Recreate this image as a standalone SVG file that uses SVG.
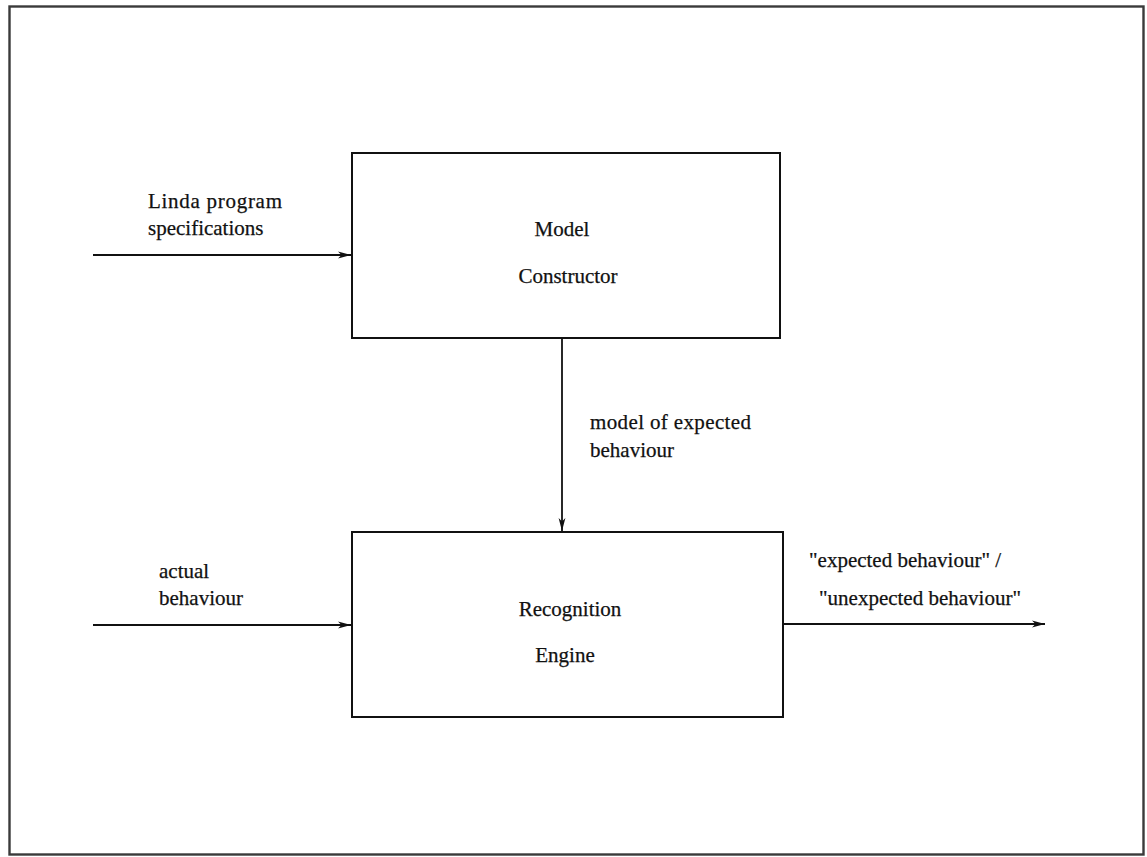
<svg xmlns="http://www.w3.org/2000/svg" width="1147" height="857" viewBox="0 0 1147 857">
  <style>
    .frame { fill: #ffffff; stroke: #3a3a3a; stroke-width: 2.4; }
    .box { fill: #ffffff; stroke: #111111; stroke-width: 2; }
    .edge { fill: none; stroke: #111111; stroke-width: 1.8; }
    .label { font-family: "Liberation Serif", "Times New Roman", serif; font-size: 21px; fill: #111111; stroke: #111111; stroke-width: 0.25; }
    .mid { text-anchor: middle; }
  </style>
  <defs>
    <marker id="arrow" viewBox="0 0 13 8" refX="13" refY="4" markerWidth="13" markerHeight="8" markerUnits="userSpaceOnUse" orient="auto">
      <path d="M0,0.6 L13,4 L0,7.4 L3.5,4 Z" fill="#111111"/>
    </marker>
  </defs>

  <rect class="frame" x="9.5" y="6.5" width="1134" height="848"/>

  <g id="model-constructor">
    <rect class="box" x="352" y="153" width="428" height="185"/>
    <text class="label mid" x="562" y="236">Model</text>
    <text class="label mid" x="568" y="283">Constructor</text>
  </g>

  <g id="recognition-engine">
    <rect class="box" x="352" y="532" width="431" height="185"/>
    <text class="label mid" x="570" y="616">Recognition</text>
    <text class="label mid" x="565" y="662">Engine</text>
  </g>

  <g id="connectors">
    <line class="edge" x1="93" y1="255" x2="351" y2="255" marker-end="url(#arrow)"/>
    <line class="edge" x1="562" y1="338" x2="562" y2="531" marker-end="url(#arrow)"/>
    <line class="edge" x1="93" y1="625" x2="351" y2="625" marker-end="url(#arrow)"/>
    <line class="edge" x1="783" y1="624" x2="1045" y2="624" marker-end="url(#arrow)"/>
  </g>

  <g id="labels">
    <text class="label" x="148" y="208" textLength="134">Linda program</text>
    <text class="label" x="148" y="235">specifications</text>
    <text class="label" x="590" y="429" textLength="161">model of expected</text>
    <text class="label" x="590" y="457">behaviour</text>
    <text class="label" x="159" y="578">actual</text>
    <text class="label" x="159" y="605">behaviour</text>
    <text class="label" x="809" y="567">"expected behaviour" /</text>
    <text class="label" x="819" y="605">"unexpected behaviour"</text>
  </g>
</svg>
